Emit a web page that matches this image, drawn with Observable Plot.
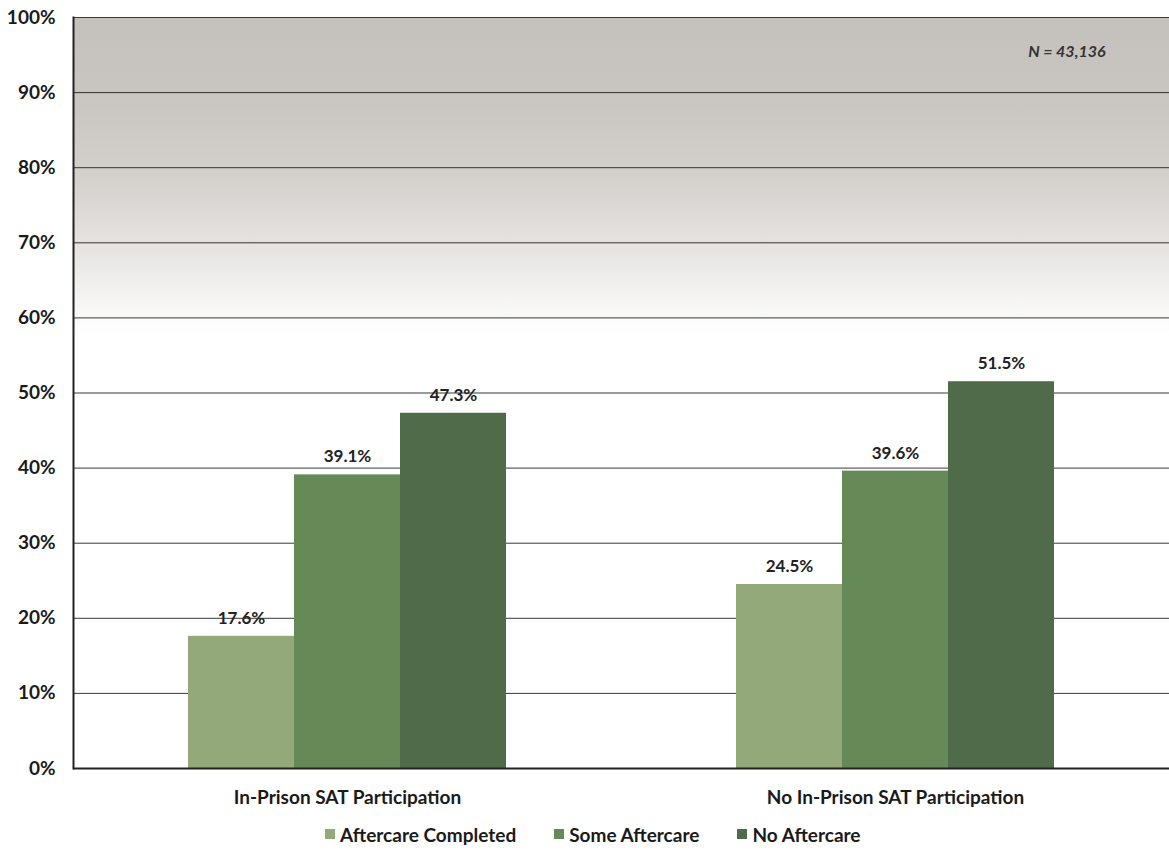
<!DOCTYPE html>
<html>
<head>
<meta charset="utf-8">
<script src="https://cdn.jsdelivr.net/npm/d3@7"></script>
<script src="https://cdn.jsdelivr.net/npm/@observablehq/plot@0.6"></script>
<style>
  html, body { margin: 0; padding: 0; background: white; }
  #chart { width: 1169px; }
  .legend { display: flex; align-items: center; padding-left: 325px; height: 38px; gap: 38px;
    font-family: Lato, "Open Sans", sans-serif; font-weight: bold; font-size: 19px; color: #1a1a1a; }
  .legend .item { display: flex; align-items: center; }
  .legend .sw { width: 10px; height: 10px; margin-right: 5px; display: inline-block; }
</style>
</head>
<body>
<div id="chart"></div>
<script>
const categories = ["In-Prison SAT Participation", "No In-Prison SAT Participation"];
const series = ["Aftercare Completed", "Some Aftercare", "No Aftercare"];
const inPrisonValues = [17.6, 39.1, 47.3];
const noInPrisonValues = [24.5, 39.6, 51.5];
const seriesColors = ["#93a97a", "#668a57", "#4f6b4a"];
const yTicks = [0, 10, 20, 30, 40, 50, 60, 70, 80, 90, 100];
const nLabel = "N = 43,136";

const valuesByCategory = [inPrisonValues, noInPrisonValues];
const data = categories.flatMap((c, i) =>
  series.map((s, j) => ({category: c, series: s, value: valuesByCategory[i][j]})));

const svg = Plot.plot({
  width: 1169,
  height: 815,
  marginLeft: 73,
  marginRight: 0,
  marginTop: 17,
  marginBottom: 47,
  style: {fontFamily: "Lato, 'Open Sans', sans-serif", fontWeight: "bold", fontSize: "19px", color: "#1a1a1a", background: "white"},
  fx: {domain: categories, padding: 0, label: null, axis: "bottom", tickSize: 0, tickPadding: 22},
  x: {domain: series, paddingInner: 0, paddingOuter: 1.08, axis: null},
  y: {domain: [0, 100], ticks: yTicks, tickFormat: d => d + "%", label: null, tickSize: 0, tickPadding: 18},
  color: {domain: series, range: seriesColors},
  marks: [
    Plot.frame({fill: "url(#bgGrad)", stroke: null, shapeRendering: "crispEdges"}),
    Plot.gridY(yTicks, {stroke: "#222", strokeOpacity: 0.9, strokeWidth: 1}),
    Plot.barY(data, {fx: "category", x: "series", y: "value", fill: "series"}),
    Plot.text(data, {fx: "category", x: "series", y: "value", text: d => d.value.toFixed(1) + "%",
      dy: -18, fontSize: 17, fontWeight: "bold", fill: "#222"}),
    Plot.ruleY([0], {stroke: "#222", strokeWidth: 2}),
    Plot.frame({anchor: "left", facetAnchor: "left", stroke: "#222", strokeWidth: 2}),
    Plot.text([{category: categories[1], t: nLabel}], {fx: "category", text: "t", frameAnchor: "top-right",
      dx: -64, dy: 28, fontStyle: "italic", fontSize: 16, fill: "#333"})
  ]
});

const ns = "http://www.w3.org/2000/svg";
const defs = document.createElementNS(ns, "defs");
const grad = document.createElementNS(ns, "linearGradient");
grad.setAttribute("id", "bgGrad");
grad.setAttribute("x1", "0"); grad.setAttribute("y1", "0");
grad.setAttribute("x2", "0"); grad.setAttribute("y2", "1");
[[0, "#c4c0bc"], [0.12, "#cac6c2"], [0.22, "#d5d2ce"], [0.32, "#e9e7e4"], [0.42, "#ffffff"], [1, "#ffffff"]]
  .forEach(([o, c]) => {
    const s = document.createElementNS(ns, "stop");
    s.setAttribute("offset", o); s.setAttribute("stop-color", c);
    grad.appendChild(s);
  });
defs.appendChild(grad);
svg.insertBefore(defs, svg.firstChild);

document.getElementById("chart").appendChild(svg);

const legend = document.createElement("div");
legend.className = "legend";
series.forEach((s, i) => {
  const item = document.createElement("span");
  item.className = "item";
  const sw = document.createElement("span");
  sw.className = "sw";
  sw.style.background = seriesColors[i];
  item.appendChild(sw);
  item.appendChild(document.createTextNode(s));
  legend.appendChild(item);
});
document.getElementById("chart").appendChild(legend);
</script>
</body>
</html>
